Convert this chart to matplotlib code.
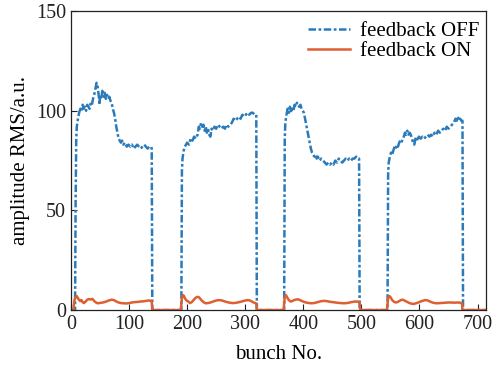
"""Bunch-by-bunch amplitude RMS, feedback OFF vs ON."""

import matplotlib

matplotlib.use("Agg")
import matplotlib.pyplot as plt

plt.rcParams["font.family"] = ["Liberation Serif", "DejaVu Serif"]
plt.rcParams["mathtext.fontset"] = "stix"

# feedback OFF (bunch No., amplitude), four bunch trains separated by gaps
OFF_BUNCH = [
    0, 7, 8, 9, 10, 12, 14, 16, 18, 20, 22, 24, 26, 28, 30, 32, 34, 36, 38, 40,
    42, 44, 46, 48, 49, 50, 52, 54, 56, 58, 60, 62, 64, 66, 68, 70, 72, 74, 76,
    78, 80, 82, 84, 86, 88, 90, 93, 96, 99, 102, 105, 108, 111, 114, 117, 120,
    123, 126, 129, 132, 135, 138, 139, 140,
    190, 191, 192, 194, 196, 198, 200, 203, 206, 209, 212, 215, 218, 220, 222,
    224, 226, 228, 230, 232, 234, 236, 238, 240, 242, 244, 247, 250, 253, 256,
    259, 262, 265, 268, 271, 274, 277, 280, 283, 286, 289, 292, 295, 298, 301,
    304, 307, 310, 313, 316, 319, 320,
    367, 368, 369, 371, 373, 375, 377, 379, 381, 383, 385, 387, 389, 391, 393,
    395, 397, 399, 401, 403, 405, 407, 409, 411, 413, 415, 417, 419, 421, 423,
    425, 428, 431, 434, 437, 440, 443, 446, 449, 452, 455, 458, 461, 464, 467,
    470, 473, 476, 479, 482, 485, 488, 491, 494, 496, 497,
    545, 546, 547, 549, 551, 553, 555, 557, 559, 561, 563, 565, 567, 569, 571,
    573, 575, 577, 579, 581, 583, 585, 587, 589, 591, 593, 595, 597, 599, 602,
    605, 608, 611, 614, 617, 620, 623, 626, 629, 632, 635, 638, 641, 644, 647,
    650, 653, 656, 659, 662, 664, 666, 668, 670, 672, 674, 675, 715,
]
OFF_AMP = [
    0, 0, 55, 85, 92, 96, 99, 101, 100, 103, 101, 102, 100, 103, 102, 101, 104,
    103, 106, 108, 111, 114, 112, 107, 103, 108, 106, 110, 107, 109, 106, 108,
    106, 107, 105, 104, 101, 99, 96, 92, 89, 86, 85, 84, 85, 83, 84, 82, 83, 82,
    83, 81, 82, 83, 82, 81, 82, 83, 82, 81, 82, 82, 81, 0,
    0, 70, 76, 80, 82, 83, 84, 83, 86, 85, 87, 86, 88, 92, 91, 94, 92, 93, 90,
    92, 89, 91, 88, 87, 91, 90, 92, 91, 93, 92, 91, 92, 91, 93, 92, 93, 94, 96,
    95, 96, 97, 96, 98, 97, 98, 99, 98, 99, 99, 98, 98, 0,
    0, 85, 94, 98, 101, 99, 102, 99, 101, 100, 103, 102, 104, 103, 102, 103,
    101, 100, 99, 96, 93, 90, 87, 84, 81, 79, 78, 77, 78, 76, 77, 75, 76, 75,
    74, 73, 74, 73, 74, 73, 75, 74, 76, 75, 74, 75, 76, 75, 76, 75, 76, 76, 77,
    76, 76, 0,
    0, 68, 74, 77, 79, 78, 80, 82, 81, 83, 82, 84, 85, 84, 86, 87, 89, 88, 90,
    88, 89, 88, 86, 84, 83, 86, 87, 85, 87, 86, 87, 86, 87, 88, 87, 88, 87, 89,
    88, 90, 89, 90, 91, 90, 92, 91, 92, 93, 94, 96, 95, 97, 95, 96, 95, 95, 0, 0,
]

# feedback ON
ON_BUNCH = [
    0, 4, 6, 8, 10, 12, 14, 16, 18, 20, 22, 25, 28, 31, 34, 37, 40, 43, 46, 50,
    55, 60, 65, 70, 74, 78, 82, 86, 90, 95, 100, 105, 110, 115, 120, 125, 130,
    134, 138, 139, 140,
    189, 191, 193, 195, 197, 199, 201, 203, 205, 208, 211, 214, 217, 220, 223,
    226, 229, 232, 236, 240, 245, 250, 255, 260, 265, 270, 275, 280, 285, 290,
    295, 300, 305, 309, 313, 317, 319, 320,
    366, 368, 370, 372, 375, 378, 381, 384, 388, 391, 394, 398, 402, 406, 410,
    415, 420, 425, 430, 435, 440, 445, 450, 455, 460, 465, 470, 475, 480, 485,
    490, 494, 497, 498,
    544, 546, 548, 550, 553, 556, 559, 562, 565, 568, 571, 574, 578, 582, 586,
    590, 594, 598, 602, 606, 610, 614, 618, 622, 626, 630, 635, 640, 645, 650,
    655, 660, 665, 670, 673, 674, 715,
]
ON_AMP = [
    0, 0, 5, 6.5, 7, 6, 5, 4.5, 5, 4, 3.5, 4.2, 5.2, 5.5, 5.3, 5.6, 4.5, 3.8,
    3.4, 3.6, 3.8, 4.2, 4.8, 5.2, 5, 4.3, 3.8, 3.5, 3.4, 3.3, 3.5, 3.8, 4, 4.1,
    4.3, 4.4, 4.6, 4.8, 4.6, 4.2, 0,
    0, 6, 7.5, 6.8, 5.5, 4.8, 4.5, 4, 3.5, 4, 5, 6, 6.6, 6.5, 5.5, 4.5, 3.8,
    3.4, 3.5, 3.8, 4.3, 4.8, 5, 4.8, 4.3, 3.9, 3.6, 3.5, 3.7, 4, 4.4, 4.8, 5,
    4.7, 4, 3.5, 3.3, 0,
    0, 6.5, 7.5, 6.5, 5, 4.3, 4.5, 5, 5.3, 5.4, 5, 4.5, 4, 3.7, 3.5, 3.4, 3.6,
    4, 4.4, 4.6, 4.5, 4.2, 4, 3.8, 3.6, 3.5, 3.4, 3.5, 3.8, 4.1, 4.3, 4.2, 3.8, 0,
    0, 6, 7, 6.5, 5, 4.2, 3.8, 4, 4.5, 5, 5.2, 4.8, 4.2, 3.6, 3.2, 3.1, 3.4,
    3.8, 4.3, 4.7, 5, 4.8, 4.3, 3.8, 3.5, 3.4, 3.5, 3.6, 3.7, 3.8, 3.8, 3.7,
    3.8, 3.7, 3.5, 0, 0,
]

X_TICKS = [0, 100, 200, 300, 400, 500, 600, 700]
Y_TICKS = [0, 50, 100, 150]


def main() -> None:
    fig = plt.figure(figsize=(4.95, 3.7), dpi=100)
    ax = fig.add_axes([0.1434, 0.162, 0.839, 0.808])

    ax.plot(OFF_BUNCH, OFF_AMP, color="#2b7bba", lw=1.8,
            dashes=(3.0, 1.0, 1.1, 1.0), label="feedback OFF")
    ax.plot(ON_BUNCH, ON_AMP, color="#de5f30", lw=1.8, label="feedback ON")

    ax.set_xlim(0, 715)
    ax.set_ylim(0, 150)
    ax.set_xticks(X_TICKS)
    ax.set_yticks(Y_TICKS)
    ax.tick_params(direction="in", length=4, width=0.8, labelsize=14.5,
                   colors="#222222")
    for spine in ax.spines.values():
        spine.set_linewidth(0.9)
        spine.set_color("#222222")

    ax.set_xlabel("bunch No.", fontsize=15, labelpad=8)
    ax.set_ylabel("amplitude RMS/a.u.", fontsize=15, labelpad=4)
    ax.legend(loc="upper right", bbox_to_anchor=(1.014, 1.006), frameon=False,
              fontsize=15, handlelength=2.0, labelspacing=0.0,
              borderaxespad=0.2, handletextpad=0.5)

    fig.savefig("out.png", dpi=100)


if __name__ == "__main__":
    main()
